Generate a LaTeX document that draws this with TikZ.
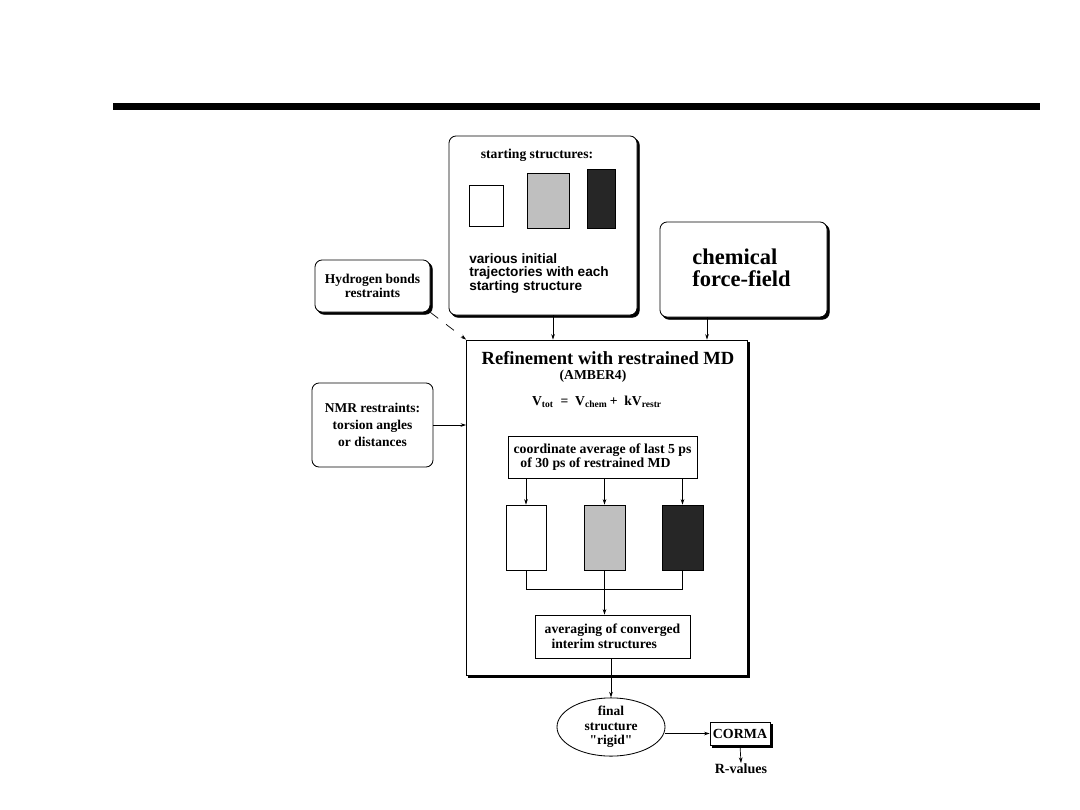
\documentclass[tikz,border=0pt]{standalone}
\usepackage{fontspec}
\setmainfont{Liberation Serif}
\newfontfamily\plainserif{Liberation Serif}
\newfontfamily\helv{Liberation Sans}
\usetikzlibrary{arrows.meta,shapes.geometric}
\begin{document}
\begin{tikzpicture}[x=0.025cm,y=-0.025cm,
  font=\bfseries\fontsize{9.7}{10.5}\selectfont,
  sz/.style 2 args={minimum width=#1*0.025cm, minimum height=#2*0.025cm, inner sep=0pt},
  frame/.style={draw, line width=0.6pt, fill=white},
  rframe/.style={frame, rounded corners=5pt},
  shadowed/.style={preaction={fill=black, draw=black, line width=0.6pt, transform canvas={xshift=1.6pt, yshift=-1.6pt}}},
  conn/.style={line width=0.5pt},
  arr/.style={conn, -{Stealth[length=4pt,width=2.6pt]}},
  txt/.style={inner sep=0pt, align=center},
  ltxt/.style={inner sep=0pt, align=left, anchor=west}
]
\useasboundingbox (0,0) rectangle (1080,810);
% top bar
\fill (113,103) rectangle (1040,110);

% starting structures box
\node[rframe, shadowed, sz={188}{179}] (start) at (543,225.5) {};
\node[txt] (sttitle) at (537,155) {starting structures:};
\node[frame, sz={34}{41}] (s1) at (486,205.5) {};
\node[frame, fill=gray!50, sz={42}{55}] (s2) at (548,200.5) {};
\node[frame, fill=black!85, sz={28}{59}] (s3) at (601,198.5) {};
\node[ltxt, anchor=north west, font=\helv\bfseries\fontsize{9.7}{9.7}\selectfont] (sttext) at (469,253) {various initial\\trajectories with each\\starting structure};

% chemical force-field
\node[rframe, shadowed, sz={167}{95}] (ff) at (743.5,269.5) {};
\node[ltxt, anchor=north west, font=\bfseries\fontsize{16}{15.5}\selectfont] (fftext) at (692,249) {chemical\\force-field};

% hydrogen bonds
\node[rframe, shadowed, sz={115}{52}, font=\bfseries\fontsize{9.6}{10}\selectfont, align=center] (hb) at (372.5,286) {Hydrogen bonds\\restraints};

% NMR restraints
\node[rframe, sz={121}{84}, font=\bfseries\fontsize{9.6}{12}\selectfont, align=center] (nmr) at (372.5,425) {NMR restraints:\\torsion angles\\or distances};

% refinement box
\node[frame, shadowed, sz={281}{335}] (ref) at (607,507.5) {};
\node[txt, font=\bfseries\fontsize{13.2}{14}\selectfont] (reft) at (608,358) {Refinement with restrained MD};
\node[txt] (amber) at (593,376) {(AMBER4)};
\node[txt] (eqn) at (597,402) {V\textsubscript{tot}\ \ =\ \ V\textsubscript{chem}\,+\ \ kV\textsubscript{restr}};

\node[frame, sz={189}{42}, font=\bfseries\fontsize{9.8}{10}\selectfont, align=left] (coord) at (602.5,457) {coordinate average of last 5 ps\\\ \ of 30 ps of restrained MD};

\node[frame, sz={40}{65}] (w2) at (526,537.5) {};
\node[frame, fill=gray!50, sz={41}{65}] (g2) at (604.5,537.5) {};
\node[frame, fill=black!85, sz={41}{65}] (b2) at (682.5,537.5) {};

\node[frame, sz={155}{43}, font=\bfseries\fontsize{9.7}{10.5}\selectfont, align=left] (avg) at (612.5,636.5) {averaging of converged\\\ \ interim structures};

% final structure
\node[ellipse, draw, line width=0.6pt, sz={108}{55}, font=\plainserif\bfseries\fontsize{9.6}{10.2}\selectfont, align=center] (fin) at (611,727) {final\\structure\\"rigid"};
\node[frame, shadowed, sz={60}{23}, font=\bfseries\fontsize{9.9}{10}\selectfont] (corma) at (740,733.5) {CORMA};
\node[txt, font=\bfseries\fontsize{10}{10}\selectfont, anchor=north] (rval) at (741,763) {R-values};

% connectors
\draw[arr] ([xshift=10*0.025cm]start.south) -- ([xshift=10*0.025cm]start.south |- ref.north);
\draw[arr] ([xshift=-36.5*0.025cm]ff.south) -- ([xshift=-36.5*0.025cm]ff.south |- ref.north);
\draw[arr, dashed, dash pattern=on 7pt off 7pt] (hb.south east) -- (ref.north west);
\draw[arr] (nmr.east) -- (nmr.east -| ref.west);
\draw[arr] (w2.north |- coord.south) -- (w2.north);
\draw[arr] (g2.north |- coord.south) -- (g2.north);
\draw[arr] (b2.north |- coord.south) -- (b2.north);
\draw[conn] (w2.south) -- ++(0,19) -| (b2.south);
\draw[arr] (g2.south) -- (g2.south |- avg.north);
\draw[arr] (fin.north |- avg.south) -- (fin.north);
\draw[arr] (fin.east |- corma.west) -- (corma.west);
\draw[arr] (corma.south) -- (rval.north);
\end{tikzpicture}
\end{document}
